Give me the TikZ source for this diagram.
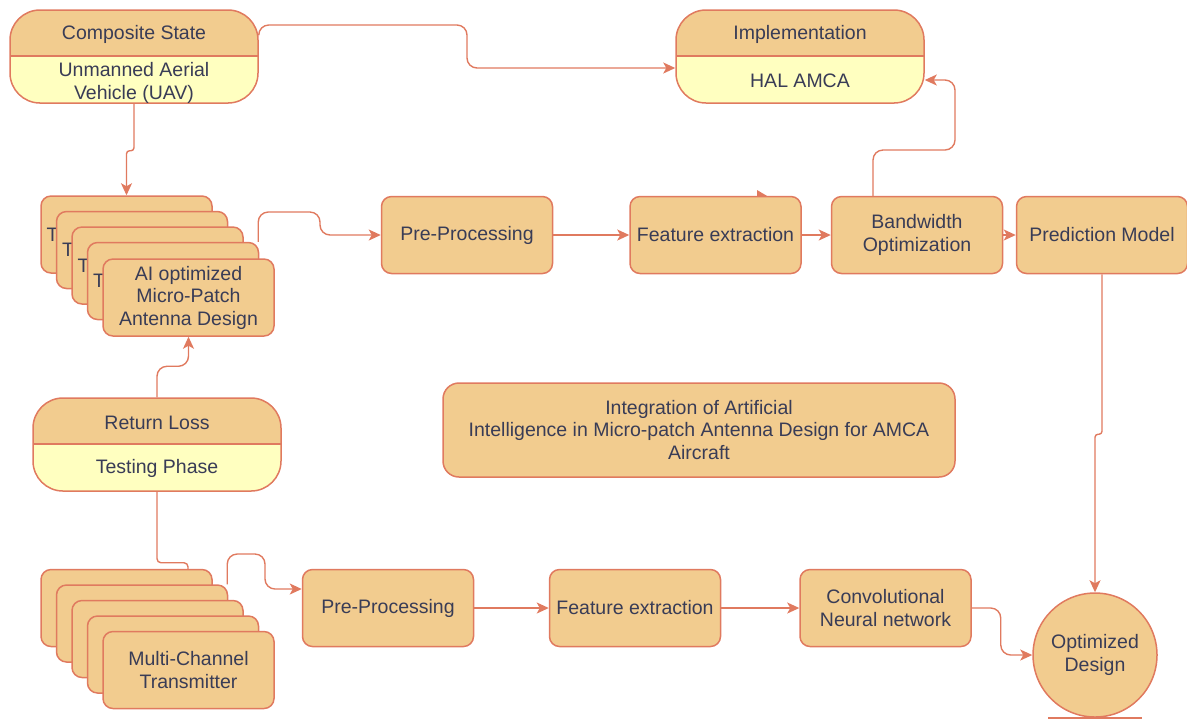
\documentclass[tikz,border=0pt]{standalone}
\usepackage{fontspec}
\setmainfont{Liberation Sans}
\usetikzlibrary{arrows.meta,positioning}
\definecolor{edgecol}{HTML}{E07A5F}
\definecolor{tanfill}{HTML}{F2CC8F}
\definecolor{paleyel}{HTML}{FFFFC0}
\definecolor{ink}{HTML}{393C56}

\begin{document}
\begin{tikzpicture}[x=0.5pt,y=-0.5pt,line join=round,>={Stealth[length=6pt,width=5.5pt,inset=1.5pt]},
	font=\fontsize{9.75}{11.25}\selectfont]
	\tikzset{box/.style={draw=edgecol,fill=tanfill,line width=.75pt,rounded corners=5pt,minimum width=85.5pt,minimum height=38.5pt,align=center,text=ink,inner sep=2pt},
		flow/.style={draw=edgecol,line width=.7pt,rounded corners=5pt,->},
		state/.style={draw=edgecol,fill=paleyel,line width=.75pt,rounded corners=15pt,minimum width=124pt,minimum height=46.5pt,
			path picture={\fill[tanfill,sharp corners] (path picture bounding box.north west) rectangle ([yshift=-23pt]path picture bounding box.north east);
				\draw[edgecol,line width=.75pt,sharp corners] ([yshift=-23pt]path picture bounding box.north west) -- ([yshift=-23pt]path picture bounding box.north east);}},
		txt/.style={text=ink,align=center,inner sep=0pt}}
	\useasboundingbox (0,0) rectangle (1187,720);
	% stray tip above feature extraction
	\fill[edgecol] (757,190) -- (768,196.5) -- (757,197) -- cycle;
	
	% states
	\node[state] (comp) at (134,56.5) {};
	\node[txt] (compHead) at ([yshift=-12.75pt]comp.north) {Composite State};
	\node[txt] (compBody) at ([yshift=10.5pt]comp.south) {Unmanned Aerial\\Vehicle (UAV)};
	\node[state] (impl) at (800,56.5) {};
	\node[txt] (implHead) at ([yshift=-12.75pt]impl.north) {Implementation};
	\node[txt] (implBody) at ([yshift=11.5pt]impl.south) {HAL AMCA};
	\node[state] (ret) at (157,444.5) {};
	\node[txt] (retHead) at ([yshift=-12.75pt]ret.north) {Return Loss};
	\node[txt] (retBody) at ([yshift=11.5pt]ret.south) {Testing Phase};
	
	% stacks
	\foreach \i in {0,...,3}{
		\node[box] (ant\i) at (126.5+15.5*\i,234.5+15.5*\i) {};
		\node[txt,anchor=west] (antT\i) at ([xshift=3pt]ant\i.west) {T};
	}
	\node[box] (ant) at (188.5,297.5) {AI optimized\\Micro-Patch\\Antenna Design};
	\foreach \i in {0,...,3}
		\node[box] (mct\i) at (126.5+15.5*\i,608+15.5*\i) {};
	\node[box] (mct) at (188.5,670) {Multi-Channel\\Transmitter};
	
	% top row
	\node[box] (pre) at (467,235) {Pre-Processing};
	\node[box] (feat) at (715.5,235) {Feature extraction};
	\node[box] (bw) at (917,235) {Bandwidth\\Optimization};
	\node[box] (pred) at (1102,235) {Prediction Model};
	
	% bottom row
	\node[box] (pre2) at (388,608) {Pre-Processing};
	\node[box] (feat2) at (635,608) {Feature extraction};
	\node[box] (cnn) at (885.5,608) {Convolutional\\Neural network};
	\node[circle,draw=edgecol,fill=tanfill,line width=.75pt,minimum size=62pt,inner sep=0pt,text=ink,align=center] (opt) at (1095,655) {Optimized\\Design};
	\draw[edgecol,line width=.9pt] ([xshift=-23.5pt]opt.south) -- ([xshift=23.5pt]opt.south);
	
	\node[box,minimum width=256pt,minimum height=47pt,rounded corners=8pt] (title) at (699,430) {Integration of Artificial\\Intelligence in Micro-patch Antenna Design for AMCA\\Aircraft};
	
	% connectors
	\draw[flow] (comp.east |- compHead) |- (467,25) |- ([yshift=-5.75pt]impl.west);
	\draw[flow,rounded corners=1.5pt] (comp.south) -- ++(0,47) -| (ant0.north);
	\draw[flow] ([xshift=-.5pt]ant3.north east) |- (320,212) |- (pre.west);
	\draw[flow] (pre.east) -- (feat.west);
	\draw[flow] (feat.east) -- (bw.west);
	\draw[flow] (bw.east) -- (pred.west);
	\draw[flow] ([xshift=-22pt]bw.north) |- (955,150) |- ([yshift=-11.75pt]impl.east);
	\draw[flow,rounded corners=1.5pt] (pred.south) -- ++(0,160) -| (opt.north);
	\draw[flow] (ret.north) -- ++(0,-31) -| (ant.south);
	\draw[flow,-,rounded corners=2pt] (ret.south) -- ++(0,71) -| ([xshift=30.75pt]mct0.north);
	\draw[flow] ([xshift=-.5pt]mct1.north east) |- (265,554) |- ([yshift=9.5pt]pre2.west);
	\draw[flow] (pre2.east) -- (feat2.west);
	\draw[flow] (feat2.east) -- (cnn.west);
	\draw[flow] (cnn.east) -- ++(29,0) |- (opt.west);
	
\end{tikzpicture}
\end{document}
